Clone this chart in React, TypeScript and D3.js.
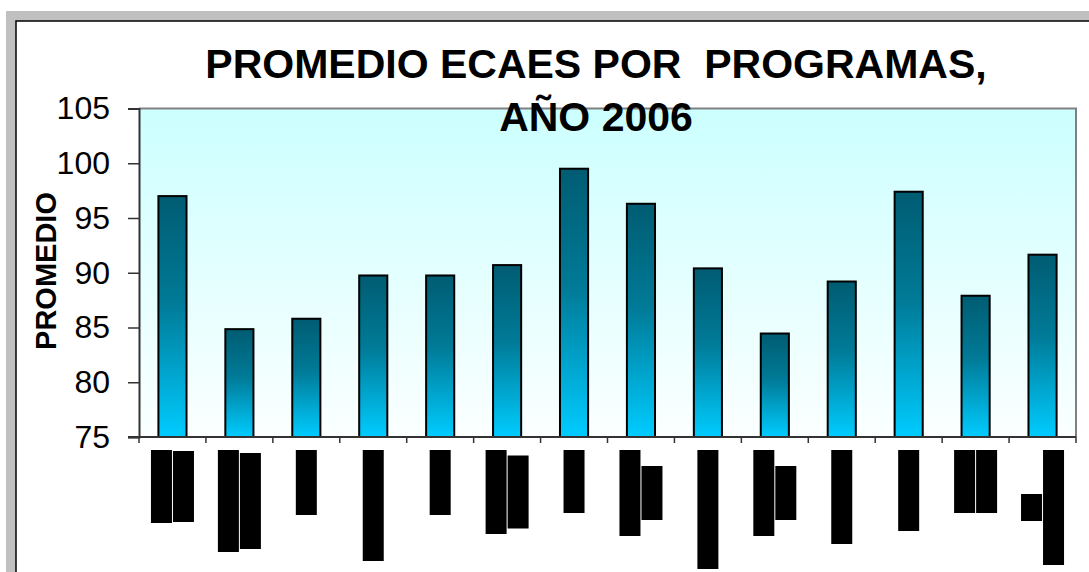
import React, { useEffect, useRef } from 'react';
import * as d3 from 'd3';

// average ECAES score per program (labels are blacked out in the source)
const programs = ['P1', 'P2', 'P3', 'P4', 'P5', 'P6', 'P7', 'P8', 'P9', 'P10', 'P11', 'P12', 'P13', 'P14'];
const promedios = [97.0, 84.85, 85.8, 89.75, 89.75, 90.7, 99.5, 96.3, 90.4, 84.45, 89.2, 97.4, 87.9, 91.65];
const yTicks = [75, 80, 85, 90, 95, 100, 105];
// length (px) of each redacted label line, one list per program
const labelLines = [
  [73, 71], [102, 96], [65], [111], [65], [84, 73], [63],
  [86, 54], [119], [86, 54], [94], [81], [63, 63], [27, 115],
];

const titleLines = ['PROMEDIO ECAES POR  PROGRAMAS,', 'AÑO 2006'];

export default function App() {
  const svgRef = useRef<SVGSVGElement>(null);

  useEffect(() => {
    const w = 1089;
    const h = 572;
    const plot = { left: 139, top: 108.5, right: 1076, bottom: 437 };
    const font = 'Liberation Sans, Arial, sans-serif';

    const svg = d3.select(svgRef.current)
      .attr('width', w)
      .attr('height', h);
    svg.selectAll('*').remove();

    const defs = svg.append('defs');
    const bg = defs.append('linearGradient')
      .attr('id', 'plotBg').attr('x1', 0).attr('y1', 0).attr('x2', 0).attr('y2', 1);
    bg.append('stop').attr('offset', 0).attr('stop-color', '#ccffff');
    bg.append('stop').attr('offset', 1).attr('stop-color', '#fbffff');

    const barGrad = defs.append('linearGradient')
      .attr('id', 'barFill').attr('x1', 0).attr('y1', 0).attr('x2', 0).attr('y2', 1);
    barGrad.append('stop').attr('offset', 0).attr('stop-color', '#005c72');
    barGrad.append('stop').attr('offset', 0.45).attr('stop-color', '#007b98');
    barGrad.append('stop').attr('offset', 1).attr('stop-color', '#00ccff');

    // outer frame
    svg.append('rect')
      .attr('x', 0).attr('y', 0).attr('width', w).attr('height', h)
      .attr('fill', '#ffffff');
    svg.append('rect')
      .attr('x', 6).attr('y', 11).attr('width', w + 20).attr('height', h + 20)
      .attr('fill', '#c0c0c0');
    svg.append('rect')
      .attr('x', 16).attr('y', 21).attr('width', w + 20).attr('height', h + 20)
      .attr('fill', '#ffffff')
      .attr('stroke', '#000000')
      .attr('stroke-width', 1.5);

    const xScale = d3.scaleBand<string>()
      .domain(programs)
      .range([plot.left, plot.right])
      .paddingInner(0.58)
      .paddingOuter(0.29);

    const yScale = d3.scaleLinear()
      .domain([75, 105])
      .range([plot.bottom, plot.top]);

    // plot area
    svg.append('rect')
      .attr('x', plot.left).attr('y', plot.top)
      .attr('width', plot.right - plot.left)
      .attr('height', plot.bottom - plot.top)
      .attr('fill', 'url(#plotBg)');
    svg.append('path')
      .attr('d', `M${plot.left},${plot.top}H${plot.right}V${plot.bottom}`)
      .attr('fill', 'none')
      .attr('stroke', '#808080')
      .attr('stroke-width', 2);

    // bars
    svg.selectAll('rect.bar')
      .data(promedios)
      .enter()
      .append('rect')
      .attr('class', 'bar')
      .attr('x', (d, i) => xScale(programs[i])!)
      .attr('y', d => yScale(d))
      .attr('width', xScale.bandwidth())
      .attr('height', d => plot.bottom - yScale(d))
      .attr('fill', 'url(#barFill)')
      .attr('stroke', '#000000')
      .attr('stroke-width', 2);

    // y axis
    const yAxis = d3.axisLeft(yScale)
      .tickValues(yTicks)
      .tickSize(11)
      .tickPadding(18)
      .tickFormat(d3.format('d'));
    const gy = svg.append('g')
      .attr('transform', `translate(${plot.left},0)`)
      .call(yAxis);
    gy.select('.domain').attr('stroke', '#333333').attr('stroke-width', 2);
    gy.selectAll('.tick line').attr('stroke', '#333333').attr('stroke-width', 1.5);
    gy.selectAll('.tick text')
      .attr('fill', '#000000')
      .style('font-family', font)
      .style('font-size', '32px');

    // x axis: only category boundary ticks
    const step = xScale.step();
    const boundaries = d3.range(programs.length + 1).map(i => plot.left + i * step);
    svg.append('line')
      .attr('x1', plot.left - 11).attr('x2', plot.right)
      .attr('y1', plot.bottom).attr('y2', plot.bottom)
      .attr('stroke', '#333333').attr('stroke-width', 2);
    svg.selectAll('line.xtick')
      .data(boundaries)
      .enter()
      .append('line')
      .attr('class', 'xtick')
      .attr('x1', d => d).attr('x2', d => d)
      .attr('y1', plot.bottom).attr('y2', plot.bottom + 6)
      .attr('stroke', '#333333').attr('stroke-width', 1.5);

    // redacted category labels
    const labelTop = plot.bottom + 13;
    labelLines.forEach((lines, i) => {
      const c = xScale(programs[i])! + xScale.bandwidth() / 2;
      const maxLen = d3.max(lines)!;
      const mid = labelTop + maxLen / 2;
      lines.forEach((len, k) => {
        svg.append('rect')
          .attr('x', c - (lines.length * 22) / 2 + k * 22 + 0.5)
          .attr('y', mid - len / 2)
          .attr('width', 21)
          .attr('height', len)
          .attr('fill', '#000000');
      });
    });

    // y axis title
    svg.append('text')
      .attr('transform', `translate(56,271) rotate(-90)`)
      .attr('text-anchor', 'middle')
      .style('font-family', font)
      .style('font-weight', 'bold')
      .style('font-size', '29px')
      .text('PROMEDIO');

    // title
    svg.selectAll('text.title')
      .data(titleLines)
      .enter()
      .append('text')
      .attr('class', 'title')
      .attr('x', 596)
      .attr('y', (d, i) => 78 + i * 53)
      .attr('text-anchor', 'middle')
      .style('font-family', font)
      .style('font-weight', 'bold')
      .style('font-size', '41px')
      .style('white-space', 'pre')
      .text(d => d);
  }, []);

  return (
    <div style={{ position: 'absolute', left: 0, top: 0 }}>
      <svg ref={svgRef} style={{ display: 'block' }} />
    </div>
  );
}
